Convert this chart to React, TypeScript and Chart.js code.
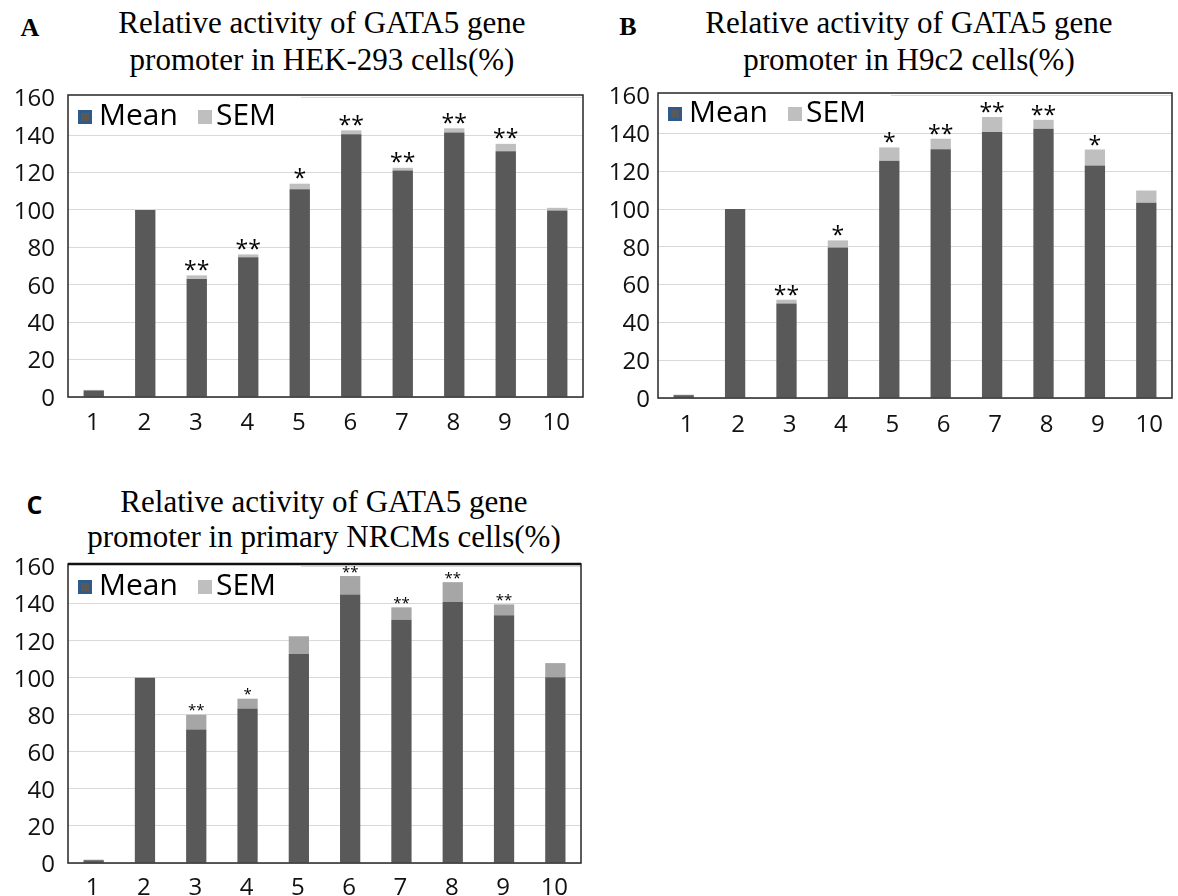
import React, { useEffect, useRef } from "react";
import { Chart, registerables } from "chart.js";
Chart.register(...registerables);

const categories = ["1", "2", "3", "4", "5", "6", "7", "8", "9", "10"];

const meanA = [3.5, 100, 63, 74.7, 111, 140.4, 121, 141.3, 131.3, 99.7];
const semA = [0.3, 0, 2, 1.5, 3, 2.1, 1.5, 2.3, 4, 1.4];
const sigA = ["", "", "**", "**", "*", "**", "**", "**", "**", ""];

const meanB = [1.5, 100, 50, 79.6, 125.6, 131.6, 140.7, 142.5, 123.1, 103.3];
const semB = [0.3, 0, 2, 3.8, 7, 5.6, 8, 4.7, 8.4, 6.5];
const sigB = ["", "", "**", "*", "*", "**", "**", "**", "*", ""];

const meanC = [1.5, 100, 72, 83.4, 112.8, 144.9, 131.3, 140.9, 133.8, 100.3];
const semC = [0.3, 0, 8, 5.3, 9.6, 10, 6.7, 10.7, 5.8, 7.6];
const sigC = ["", "", "**", "*", "", "**", "**", "**", "**", ""];

const yTicks = [0, 20, 40, 60, 80, 100, 120, 140, 160];
const legendLabels = ["Mean", "SEM"];

type PanelProps = {
  mean: number[];
  sem: number[];
  sig: string[];
  semColor: string;
  cx: number; cy: number; cw: number; ch: number;
  pl: number; pt: number; pr: number; pb: number;
  yPad: number; xPad: number; xOff: number;
  starSize: number; starGap: number;
  legendDy: number; frameTop: number;
};

const FONT = "'Open Sans', 'Noto Sans', sans-serif";

function Panel(p: PanelProps) {
  const ref = useRef<HTMLCanvasElement>(null);
  useEffect(() => {
    const canvas = ref.current!;
    const framePlugin = {
      id: "frame",
      afterDatasetsDraw(chart: any) {
        const { ctx, chartArea: a } = chart;
        ctx.save();
        // legend box
        ctx.fillStyle = "#ffffff";
        ctx.fillRect(a.left + 1, a.top + 1, 232, 36);
        const ly = a.top + 22 + p.legendDy;
        ctx.fillStyle = "#2f5a8c";
        ctx.fillRect(a.left + 10, ly - 7, 14, 14);
        ctx.fillStyle = "#595959";
        ctx.fillRect(a.left + 13, ly - 4, 8, 8);
        ctx.fillStyle = "#bfbfbf";
        ctx.fillRect(a.left + 130, ly - 7, 14, 14);
        ctx.fillStyle = "#000";
        ctx.font = `30px ${FONT}`;
        ctx.textBaseline = "middle";
        ctx.textAlign = "left";
        ctx.fillText(legendLabels[0], a.left + 31, ly - 1);
        ctx.fillText(legendLabels[1], a.left + 148, ly - 1);
        // significance stars
        const meta = chart.getDatasetMeta(1);
        ctx.font = `${p.starSize}px ${FONT}`;
        ctx.textAlign = "center";
        ctx.textBaseline = "alphabetic";
        const m = ctx.measureText("*");
        meta.data.forEach((el: any, i: number) => {
          const s = p.sig[i];
          if (!s) return;
          const bottom = el.y - p.starGap;
          ctx.fillText(s, el.x, bottom - m.actualBoundingBoxDescent);
        });
        // frame
        ctx.strokeStyle = "#262626";
        ctx.lineWidth = 1.5;
        ctx.strokeRect(a.left, a.top, a.right - a.left, a.bottom - a.top);
        if (p.frameTop > 1.5) {
          ctx.lineWidth = p.frameTop;
          ctx.strokeStyle = "#111";
          ctx.beginPath();
          ctx.moveTo(a.left, a.top);
          ctx.lineTo(a.right, a.top);
          ctx.stroke();
        }
        ctx.restore();
      },
    };
    const chart = new Chart(canvas, {
      type: "bar",
      data: {
        labels: categories,
        datasets: [
          { label: legendLabels[0], data: p.mean, backgroundColor: "#595959", borderWidth: 0, barPercentage: 0.395, categoryPercentage: 1, stack: "s" },
          { label: legendLabels[1], data: p.sem, backgroundColor: p.semColor, borderWidth: 0, barPercentage: 0.395, categoryPercentage: 1, stack: "s" },
        ],
      },
      options: {
        animation: false,
        responsive: false,
        maintainAspectRatio: false,
        layout: { padding: { left: 0, top: p.pt, right: p.cw - p.pr, bottom: 0 } },
        plugins: { legend: { display: false }, tooltip: { enabled: false }, title: { display: false } },
        scales: {
          x: {
            stacked: true,
            grid: { display: false, drawTicks: false },
            border: { display: false },
            ticks: { color: "#111", font: { family: FONT, size: 24 }, padding: p.xPad, labelOffset: p.xOff, maxRotation: 0, autoSkip: false },
            afterFit: (s: any) => { s.height = p.ch - p.pb; },
          },
          y: {
            stacked: true,
            min: 0,
            max: 161.4,
            grid: { color: "#d9d9d9", lineWidth: 1, drawTicks: false },
            border: { display: false },
            ticks: { stepSize: 20, color: "#111", font: { family: FONT, size: 24 }, padding: p.yPad, labelOffset: 2 },
            afterBuildTicks: (s: any) => { s.ticks = yTicks.map((v) => ({ value: v })); },
            afterFit: (s: any) => { s.width = p.pl; },
          },
        },
      } as any,
      plugins: [framePlugin],
    });
    return () => chart.destroy();
  }, []);
  return (
    <canvas
      ref={ref}
      width={p.cw}
      height={p.ch}
      style={{ position: "absolute", left: p.cx, top: p.cy, width: p.cw, height: p.ch }}
    />
  );
}

function Line(props: { text: string; cx: number; cy: number; size: number; family: string; bold?: boolean }) {
  return (
    <div
      style={{
        position: "absolute",
        left: props.cx - 400,
        width: 800,
        top: props.cy - 20,
        height: 40,
        lineHeight: "40px",
        textAlign: "center",
        whiteSpace: "nowrap",
        fontFamily: props.family,
        fontSize: props.size,
        fontWeight: props.bold ? 700 : 400,
        color: "#000",
      }}
    >
      {props.text}
    </div>
  );
}

const SERIF = "'Liberation Serif', 'DejaVu Serif', serif";

export default function App() {
  return (
    <div style={{ position: "absolute", left: 0, top: 0, width: 1178, height: 896, background: "#fff", overflow: "hidden" }}>
      <Line text="A" cx={30} cy={28} size={26} family={SERIF} bold />
      <Line text="Relative activity of GATA5 gene" cx={322} cy={23} size={31} family={SERIF} />
      <Line text="promoter in HEK-293 cells(%)" cx={322} cy={60} size={31} family={SERIF} />
      <Line text="B" cx={628} cy={27} size={26} family={SERIF} bold />
      <Line text="Relative activity of GATA5 gene" cx={909} cy={23} size={31} family={SERIF} />
      <Line text="promoter in H9c2 cells(%)" cx={909} cy={60} size={31} family={SERIF} />
      <Line text="C" cx={34.5} cy={504} size={25} family={FONT} bold />
      <Line text="Relative activity of GATA5 gene" cx={324} cy={502} size={31} family={SERIF} />
      <Line text="promoter in primary NRCMs cells(%)" cx={324} cy={537} size={31} family={SERIF} />
      <Panel mean={meanA} sem={semA} sig={sigA} semColor="#bfbfbf"
        cx={0} cy={0} cw={590} ch={448} pl={68} pt={95} pr={583} pb={397}
        yPad={13} xPad={12} xOff={-1} starSize={23} starGap={4.5} legendDy={0} frameTop={1.5} />
      <Panel mean={meanB} sem={semB} sig={sigB} semColor="#bfbfbf"
        cx={590} cy={0} cw={588} ch={448} pl={68} pt={93} pr={582} pb={398}
        yPad={8} xPad={13} xOff={3} starSize={23} starGap={4} legendDy={-1} frameTop={1.5} />
      <Panel mean={meanC} sem={semC} sig={sigC} semColor="#a6a6a6"
        cx={0} cy={448} cw={590} ch={448} pl={68} pt={116} pr={581} pb={415}
        yPad={13} xPad={11} xOff={-1} starSize={15} starGap={3.5} legendDy={1} frameTop={2.5} />
    </div>
  );
}
